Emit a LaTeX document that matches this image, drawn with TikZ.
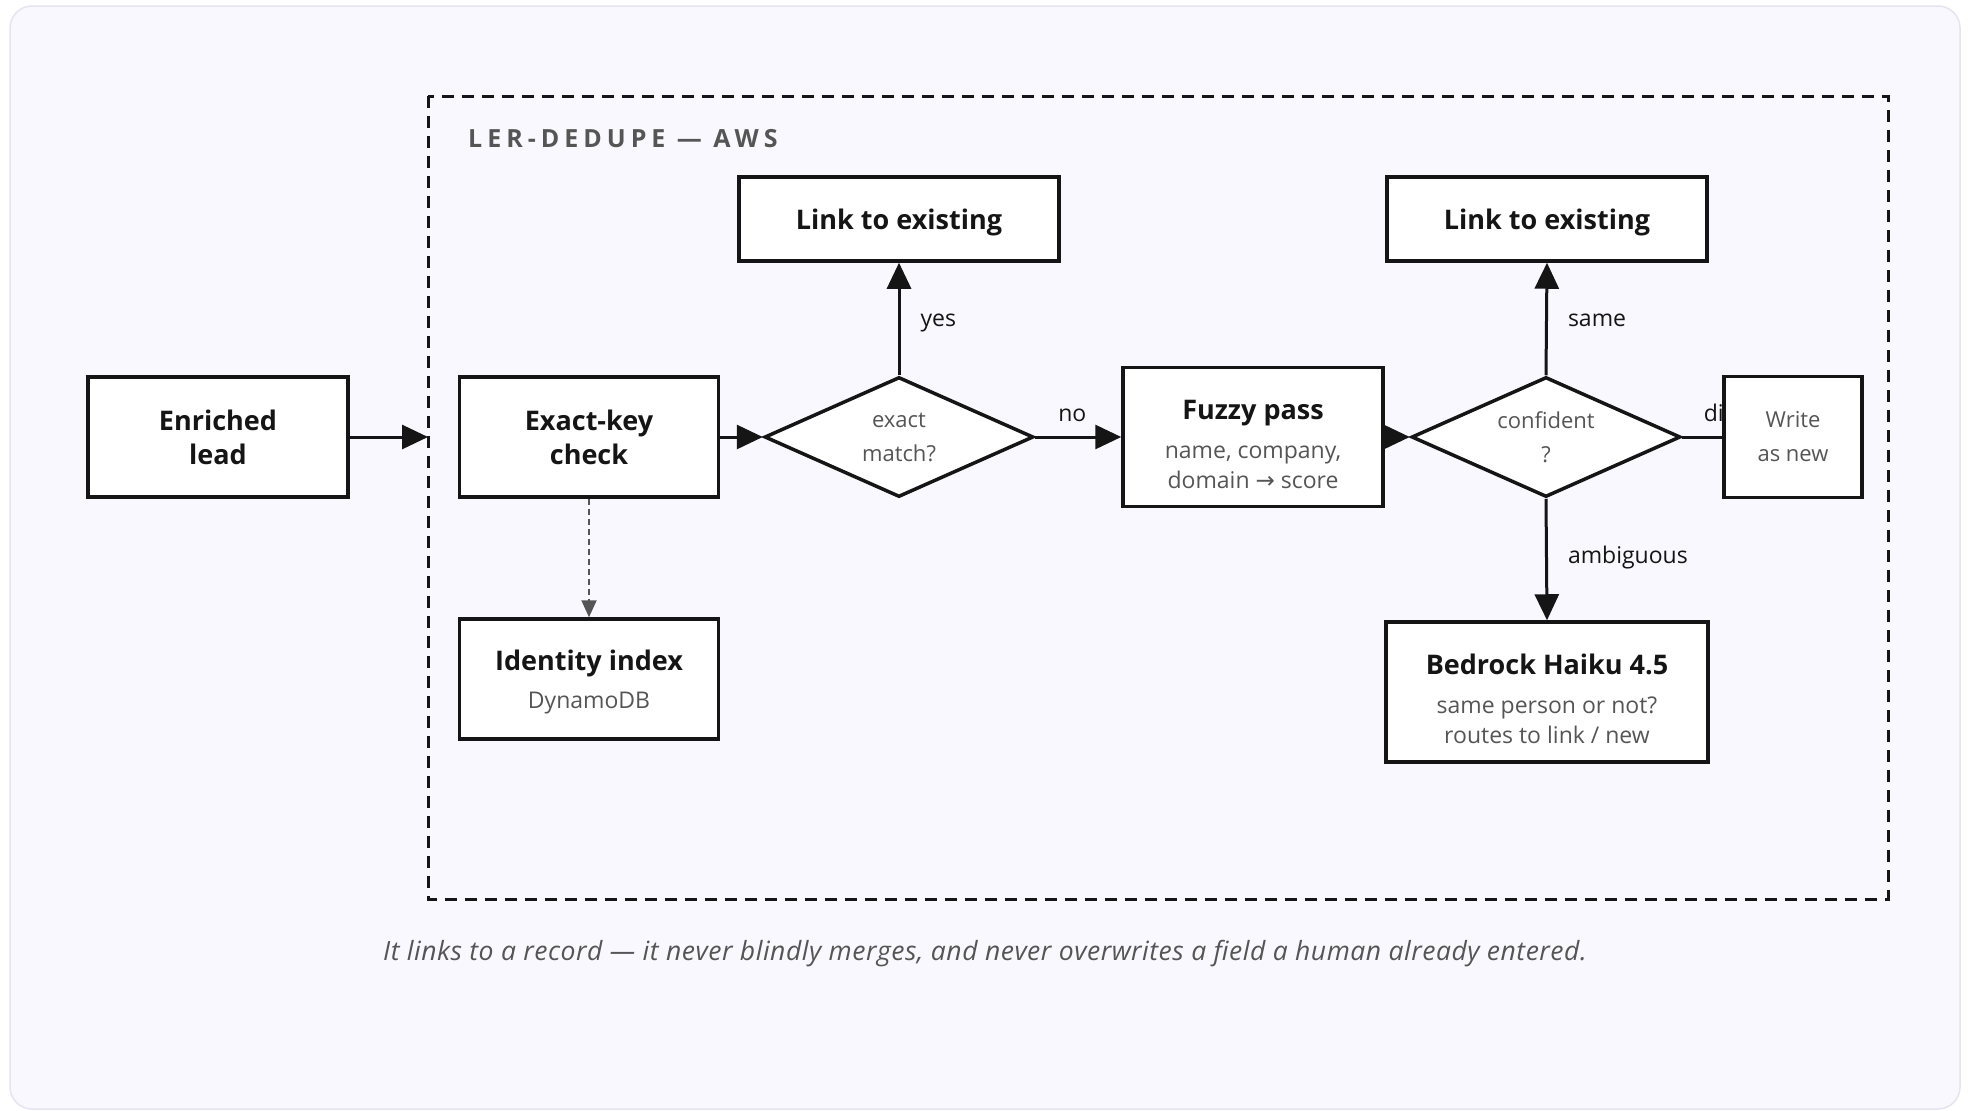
\documentclass[tikz,border=0pt]{standalone}
\usepackage{fontspec}
\setmainfont{Open Sans}
\newfontfamily\arrowfont{DejaVu Sans}
\usetikzlibrary{arrows.meta,shapes.geometric}
\pgfdeclarelayer{back}
\pgfdeclarelayer{wires}
\pgfsetlayers{back,wires,main}

\definecolor{cardfill}{HTML}{F9F8FE}
\definecolor{cardline}{HTML}{E6E4EE}
\definecolor{ink}{HTML}{151515}
\definecolor{muted}{HTML}{555555}

\newcommand{\ttlfont}{\bfseries\fontsize{27}{34}\selectfont}
\newcommand{\subfont}{\fontsize{23}{30}\selectfont}
% invisible strut that pushes a block of text down inside its box
\newcommand{\lift}[1]{\rule{0pt}{#1}}

\tikzset{
  box/.style={draw=ink, line width=3.5pt, fill=white, inner sep=0pt, align=center, text=ink},
  titled/.style={box, font=\ttlfont},
  detail/.style={box, font=\subfont, text=muted},
  decision/.style={diamond, aspect=2.24, draw=ink, line width=3.5pt, fill=white, inner sep=0pt,
    align=center, text=muted, minimum width=269pt, minimum height=120pt,
    font=\fontsize{22}{34}\selectfont},
  flow/.style={draw=ink, line width=3pt, -{Triangle[length=26pt,width=24pt]}},
  wire/.style={draw=ink, line width=3pt},
  hint/.style={draw=muted, line width=2pt, dash pattern=on 6pt off 4pt,
    -{Triangle[length=17pt,width=15pt]}},
  lbl/.style={text=ink, font=\fontsize{23}{26}\selectfont, inner sep=0pt},
}

\begin{document}
\begin{tikzpicture}[x=1pt,y=-1pt]
\useasboundingbox (0,0) rectangle (1968,1111);

\begin{pgfonlayer}{back}
  % card
  \draw[cardline, fill=cardfill, line width=1.5pt, rounded corners=22pt] (10,6) rectangle (1960,1109);
  % AWS boundary
  \draw[ink, line width=3pt, dash pattern=on 12pt off 8pt] (428,96) rectangle (1888,899);
\end{pgfonlayer}

\node[anchor=west, text=muted, inner sep=0pt,
      font=\bfseries\fontsize{25}{28}\selectfont\addfontfeature{LetterSpace=20}]
  (cluster) at (468,139) {LER-DEDUPE — AWS};
\coordinate (clusterW) at (428,437);

% boxes
\node[titled, minimum width=260pt, minimum height=120pt] (lead) at (218,437) {Enriched\\lead};
\node[titled, minimum width=259pt, minimum height=120pt] (exact) at (589,437) {Exact-key\\check};
\node[detail, minimum width=259pt, minimum height=120pt] (ident) at (589,679)
  {{\ttlfont\color{ink}\lift{27pt}Identity index}\\[8.5pt]DynamoDB};
\node[decision] (d1) at (899,437) {exact\\match?};
\node[titled, minimum width=320pt, minimum height=84pt] (link1) at (899,219) {\lift{27pt}Link to existing};
\node[detail, minimum width=260pt, minimum height=139pt] (fuzzy) at (1253,437)
  {{\ttlfont\color{ink}\lift{34pt}Fuzzy pass}\\[9pt]name, company,\\domain {\arrowfont →} score};
\node[decision] (d2) at (1546,437) {confident\\?};
\node[titled, minimum width=320pt, minimum height=84pt] (link2) at (1547,219) {\lift{27pt}Link to existing};
\node[detail, minimum width=322pt, minimum height=140pt] (haiku) at (1547,692)
  {{\ttlfont\color{ink}\lift{35pt}Bedrock Haiku 4.5}\\[9pt]same person or not?\\routes to link / new};
\node[box, text=muted, minimum width=138pt, minimum height=121pt,
      font=\fontsize{22}{34}\selectfont] (write) at (1793,437) {Write\\as new};

% connectors
\begin{pgfonlayer}{wires}
  \draw[flow] (lead.east) -- (clusterW);
  \draw[flow] (exact.east) -- (d1.west);
  \draw[flow] (d1.north) -- node[lbl, anchor=west, xshift=20pt, yshift=-4pt] {yes} (link1.south);
  \draw[flow] (d1.east) -- node[lbl, yshift=21.5pt, xshift=-6pt] {no} (fuzzy.west);
  \draw[hint] (exact.south) -- (ident.north);
  \draw[flow] (fuzzy.east) -- (d2.west);
  \draw[flow] (d2.north) -- node[lbl, anchor=west, xshift=20pt, yshift=-1.5pt] {same} (link2.south);
  \draw[flow] (d2.south) -- node[lbl, anchor=west, xshift=20pt, yshift=1.5pt] {ambiguous} (haiku.north);
  \draw[wire] (d2.east) -- node[lbl, anchor=west, yshift=24pt] {different} (write.west);
\end{pgfonlayer}

\node[text=muted, inner sep=0pt, font=\itshape\fontsize{26.5}{30}\selectfont\addfontfeature{LetterSpace=2}]
  (caption) at (985,954)
  {It links to a record — it never blindly merges, and never overwrites a field a human already entered.};
\end{tikzpicture}
\end{document}
